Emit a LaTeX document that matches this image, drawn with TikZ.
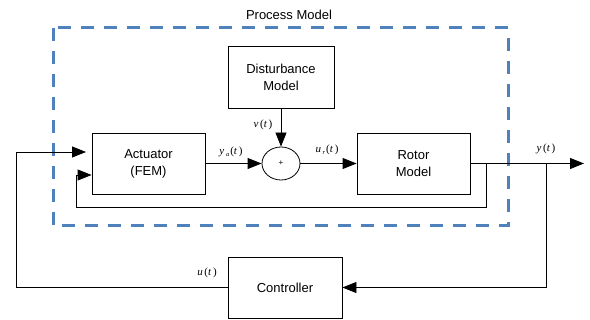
\documentclass[tikz,border=0pt]{standalone}
\usepackage{fontspec}
\setmainfont{Liberation Sans}
\newfontfamily\labfont{Liberation Serif}[LetterSpace=15]
\usetikzlibrary{arrows.meta,shapes.geometric}
\definecolor{pmblue}{RGB}{79,129,189}
\begin{document}
\begin{tikzpicture}[x=1pt,y=-1pt,
  blockbox/.style={draw,line width=0.8pt,inner sep=0pt,font=\fontsize{13}{17}\selectfont,align=center},
  sig/.style={line width=0.8pt,-{Triangle[length=14pt,width=11pt]}},
  lbl/.style={font=\labfont\fontsize{11}{13}\selectfont,inner sep=0pt},
  pmbox/.style={draw=pmblue,line width=3pt,dash pattern=on 13pt off 10pt}]
\useasboundingbox (0,0) rectangle (590,320);
% process model frame
\draw[pmbox] (53,28) rectangle (508,226);
\node[font=\fontsize{13}{15}\selectfont,inner sep=0pt] (pmlabel) at (289,15) {Process Model};
% blocks
\node[blockbox,minimum width=106pt,minimum height=62pt] (dist) at (281,77) {Disturbance\\Model};
\node[blockbox,minimum width=113pt,minimum height=61pt] (act) at (148.5,163.5) {Actuator\\(FEM)};
\node[blockbox,minimum width=113pt,minimum height=61pt] (rot) at (413.5,163.5) {Rotor\\Model};
\node[blockbox,minimum width=114pt,minimum height=61pt] (ctrl) at (285,287.5) {Controller};
\node[draw,ellipse,line width=0.8pt,minimum width=38pt,minimum height=33pt,inner sep=0pt,font=\fontsize{8}{8}\selectfont] (sum) at (281,163.5) {+};
% coordinates
\coordinate (out) at (584,163.5);
\coordinate (fbtap) at (486,163.5);
\coordinate (fbr) at (486,207);
\coordinate (fbl) at (76,207);
\coordinate (fbin) at (76,175);
\coordinate (ytap) at (546,163.5);
\coordinate (ol) at (16,287.5);
\coordinate (olt) at (16,152);
\coordinate (oin) at (92,152);
% connectors
\draw[sig] (act.east) -- (sum.west);
\draw[sig] (sum.east) -- (rot.west);
\draw[sig] (dist.south) -- (sum.north);
\draw[sig] (rot.east) -- (out);
\draw[sig] (fbtap) -- (fbr) -- (fbl) -- (fbin) -- (act.west |- fbin);
\draw[sig] (ytap) |- (ctrl.east);
\draw[sig,shorten >=6pt] (ctrl.west) -- (ol) -- (olt) -- (oin);
% labels
\node[lbl] (lv) at (263,125) {\textit{v}(\textit{t})};
\node[lbl] (lya) at (231,152) {\textit{y}\raisebox{-1.5pt}{\fontsize{6.5}{6.5}\selectfont\textit{a}}(\textit{t})};
\node[lbl] (lur) at (327,150) {\textit{u}\raisebox{-1.5pt}{\fontsize{6.5}{6.5}\selectfont\textit{r}}(\textit{t})};
\node[lbl] (ly) at (546,149) {\textit{y}(\textit{t})};
\node[lbl] (lu) at (207,273) {\textit{u}(\textit{t})};
\end{tikzpicture}
\end{document}
